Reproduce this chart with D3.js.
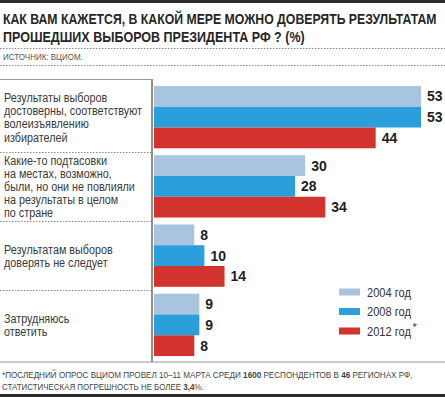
<!DOCTYPE html>
<html>
<head>
<meta charset="utf-8">
<script src="https://cdn.jsdelivr.net/npm/d3@7"></script>
<style>
  body { margin: 0; background: #fff; }
  svg { display: block; font-family: "Liberation Sans", Arial, sans-serif; }
</style>
</head>
<body>
<div id="chart"></div>
<script>
// Data
const categories = [
    ["Результаты выборов", "достоверны, соответствуют", "волеизъявлению", "избирателей"],
    ["Какие-то подтасовки", "на местах, возможно,", "были, но они не повлияли", "на результаты в целом", "по стране"],
    ["Результатам выборов", "доверять не следует"],
    ["Затрудняюсь", "ответить"]
];
const years = ["2004 год", "2008 год", "2012 год"];
const values2004 = [53, 30, 8, 9];
const values2008 = [53, 28, 10, 9];
const values2012 = [44, 34, 14, 8];
const colors = ["#a8c4de", "#2b9fdb", "#d2332d"];

const titleLines = ["КАК ВАМ КАЖЕТСЯ, В КАКОЙ МЕРЕ МОЖНО ДОВЕРЯТЬ РЕЗУЛЬТАТАМ", "ПРОШЕДШИХ ВЫБОРОВ ПРЕЗИДЕНТА РФ ? (%)"];
const sourceText = "ИСТОЧНИК: ВЦИОМ.";

const W = 445, H = 397;
const series = [values2004, values2008, values2012];

const svg = d3.select("#chart").append("svg")
    .attr("width", W)
    .attr("height", H);

// squeeze text horizontally, the original uses a condensed face
function squeeze(sel, k) {
    sel.each(function() {
        const w = this.getComputedTextLength();
        d3.select(this).attr("textLength", w * k).attr("lengthAdjust", "spacingAndGlyphs");
    });
}
// one line of text in its own group, scaled in x to a given width
function scaledLine(parent, x0, y0, parts, width, attrs) {
    const g = parent.append("g");
    Object.entries(attrs).forEach(([k, v]) => g.attr(k, v));
    const t = g.append("text").attr("x", 0).attr("y", 0);
    parts.forEach(p => {
        t.append("tspan").attr("font-weight", p[1] ? "bold" : null).text(p[0]);
    });
    const k = width / t.node().getComputedTextLength();
    g.attr("transform", `translate(${x0}, ${y0}) scale(${k}, 1)`);
    return g;
}

// top and bottom heavy rules
svg.append("rect").attr("x", 0).attr("y", 0).attr("width", W).attr("height", 3).attr("fill", "#2b2b2b");
svg.append("rect").attr("x", 0).attr("y", 394).attr("width", W).attr("height", 3).attr("fill", "#2b2b2b");

// title
titleLines.forEach((line, i) => {
    scaledLine(svg, 3, 24 + i * 18, [[line, true]], i === 0 ? 434 : 302,
        { "font-size": 15.5, "fill": "#262626" });
});

// dotted rules
function dotted(y, x1, x2) {
    svg.append("line")
        .attr("x1", x1).attr("x2", x2)
        .attr("y1", y).attr("y2", y)
        .attr("stroke", "#8a8a8a")
        .attr("stroke-width", 1)
        .attr("stroke-dasharray", "1.5,1.5");
}
dotted(48.5, 0, W);
dotted(65.5, 0, W);

scaledLine(svg, 3, 60, [[sourceText, false]], 80, { "font-size": 9, "fill": "#555" });

// scales
const x = d3.scaleLinear().domain([0, 53]).range([154, 421]);
const y = d3.scaleBand()
    .domain(d3.range(categories.length))
    .range([82.5, 359.5])
    .paddingInner(0.1)
    .paddingOuter(0.05);
const ySub = d3.scaleBand()
    .domain(d3.range(years.length))
    .range([0, y.bandwidth()]);

// grey frame lines
svg.append("line").attr("x1", 0).attr("x2", 152).attr("y1", 79.5).attr("y2", 79.5)
    .attr("stroke", "#9a9a9a").attr("stroke-width", 1);
svg.append("line").attr("x1", 0).attr("x2", W).attr("y1", 362).attr("y2", 362)
    .attr("stroke", "#9a9a9a").attr("stroke-width", 1.2);
svg.append("line").attr("x1", 152).attr("x2", 152).attr("y1", 79).attr("y2", 362)
    .attr("stroke", "#8f8f8f").attr("stroke-width", 2);

// separators between groups
for (let i = 1; i < categories.length; i++) {
    const yy = Math.round(y(i) - (y.step() - y.bandwidth()) / 2) + 0.5;
    dotted(yy, 0, 151);
}

// groups
const groups = svg.append("g").selectAll("g")
    .data(categories)
    .enter()
    .append("g")
    .attr("transform", (d, i) => `translate(0, ${y(i)})`);

// category labels
groups.each(function(lines) {
    const g = d3.select(this);
    const lh = 13.2;
    const mid = y.bandwidth() / 2;
    const first = mid - (lines.length - 1) * lh / 2 + 0.5;
    g.selectAll("text.cat")
        .data(lines)
        .enter()
        .append("text")
        .attr("class", "cat")
        .attr("x", 4)
        .attr("y", (d, j) => first + j * lh)
        .attr("dy", "0.35em")
        .attr("font-size", 12)
        .attr("fill", "#3a3a3a")
        .text(d => d);
});
// reference line "достоверны, соответствуют" is ~138px wide
const refLine = svg.selectAll("text.cat").filter(d => d === "достоверны, соответствуют").node();
const kCat = 138 / refLine.getComputedTextLength();
squeeze(svg.selectAll("text.cat"), kCat);

// bars and value labels
groups.each(function(lines, gi) {
    const g = d3.select(this);
    const vals = series.map(s => s[gi]);
    g.selectAll("rect")
        .data(vals)
        .enter()
        .append("rect")
        .attr("x", x(0))
        .attr("y", (d, j) => ySub(j))
        .attr("width", d => x(d) - x(0))
        .attr("height", ySub.bandwidth())
        .attr("fill", (d, j) => colors[j]);
    g.selectAll("text.val")
        .data(vals)
        .enter()
        .append("text")
        .attr("class", "val")
        .attr("x", d => x(d) + 6)
        .attr("y", (d, j) => ySub(j) + ySub.bandwidth() / 2)
        .attr("dy", "0.36em")
        .attr("font-size", 14)
        .attr("font-weight", "bold")
        .attr("fill", "#1e1e1e")
        .text(d => d);
});

// legend
const legend = svg.append("g").selectAll("g")
    .data(years)
    .enter()
    .append("g")
    .attr("transform", (d, i) => `translate(339, ${292 + i * 19.5})`);
legend.append("rect")
    .attr("x", 0).attr("y", -3.5)
    .attr("width", 21).attr("height", 7)
    .attr("fill", (d, i) => colors[i]);
legend.each(function(d) {
    scaledLine(d3.select(this), 28, 4.6, [[d, false]], 44, { "font-size": 13, "fill": "#333" });
});
legend.filter((d, i) => i === 2).append("text")
    .attr("x", 73.5)
    .attr("y", 0)
    .attr("font-size", 11)
    .attr("fill", "#333")
    .text("*");

// footnote, squeezed as a whole so the bold numbers keep their place
scaledLine(svg, 2, 378, [
    ["*ПОСЛЕДНИЙ ОПРОС ВЦИОМ ПРОВЕЛ 10–11 МАРТА СРЕДИ ", false],
    ["1600", true],
    [" РЕСПОНДЕНТОВ В ", false],
    ["46", true],
    [" РЕГИОНАХ РФ,", false]
], 411, { "font-size": 9, "fill": "#444" });
scaledLine(svg, 2, 390, [
    ["СТАТИСТИЧЕСКАЯ ПОГРЕШНОСТЬ НЕ БОЛЕЕ ", false],
    ["3,4", true],
    ["%.", false]
], 202, { "font-size": 9, "fill": "#444" });
</script>
</body>
</html>
